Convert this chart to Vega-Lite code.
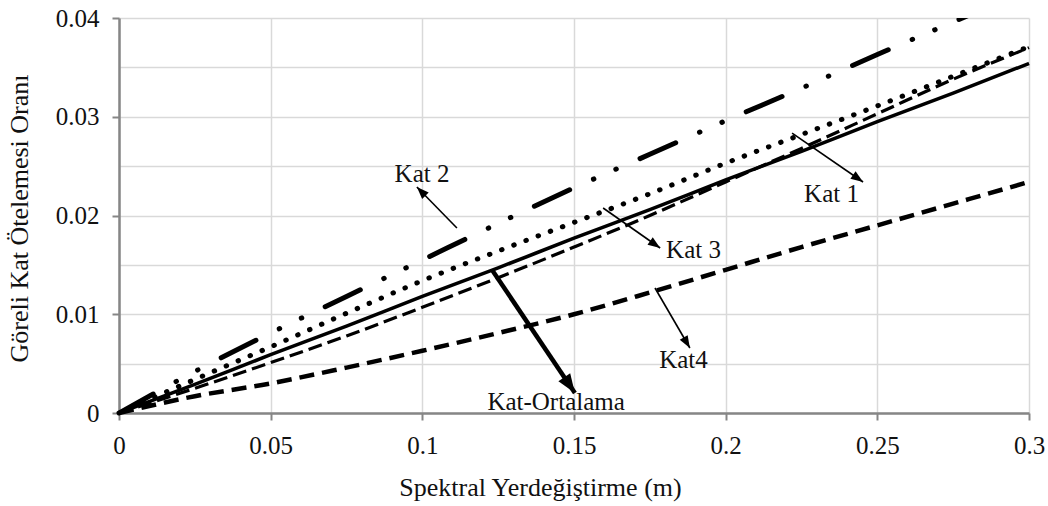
{
  "$schema": "https://vega.github.io/schema/vega-lite/v6.json",
  "width": 910,
  "height": 395,
  "autosize": "none",
  "padding": {"left": 119, "top": 18, "right": 19, "bottom": 93},
  "background": "white",
  "config": {"view": {"stroke": null}, "font": "Liberation Serif"},
  "datasets": {
    "curves": [
      {"series": "Kat 1", "x": 0, "y": 0}, {"series": "Kat 1", "x": 0.025, "y": 0.0029}, {"series": "Kat 1", "x": 0.05, "y": 0.0059}, {"series": "Kat 1", "x": 0.075, "y": 0.0088}, {"series": "Kat 1", "x": 0.1, "y": 0.0118}, {"series": "Kat 1", "x": 0.125, "y": 0.0147}, {"series": "Kat 1", "x": 0.15, "y": 0.0177}, {"series": "Kat 1", "x": 0.175, "y": 0.0206}, {"series": "Kat 1", "x": 0.2, "y": 0.0236}, {"series": "Kat 1", "x": 0.225, "y": 0.0265}, {"series": "Kat 1", "x": 0.25, "y": 0.0295}, {"series": "Kat 1", "x": 0.275, "y": 0.0324}, {"series": "Kat 1", "x": 0.3, "y": 0.0354},
      {"series": "Kat 2", "x": 0, "y": 0}, {"series": "Kat 2", "x": 0.025, "y": 0.0042}, {"series": "Kat 2", "x": 0.05, "y": 0.0081}, {"series": "Kat 2", "x": 0.075, "y": 0.0118}, {"series": "Kat 2", "x": 0.1, "y": 0.0155}, {"series": "Kat 2", "x": 0.125, "y": 0.0192}, {"series": "Kat 2", "x": 0.15, "y": 0.0228}, {"series": "Kat 2", "x": 0.175, "y": 0.0262}, {"series": "Kat 2", "x": 0.2, "y": 0.0296}, {"series": "Kat 2", "x": 0.225, "y": 0.0329}, {"series": "Kat 2", "x": 0.25, "y": 0.0363}, {"series": "Kat 2", "x": 0.275, "y": 0.0396}, {"series": "Kat 2", "x": 0.3, "y": 0.0429},
      {"series": "Kat 3", "x": 0, "y": 0}, {"series": "Kat 3", "x": 0.025, "y": 0.0034}, {"series": "Kat 3", "x": 0.05, "y": 0.0067}, {"series": "Kat 3", "x": 0.075, "y": 0.0101}, {"series": "Kat 3", "x": 0.1, "y": 0.0134}, {"series": "Kat 3", "x": 0.125, "y": 0.0164}, {"series": "Kat 3", "x": 0.15, "y": 0.0193}, {"series": "Kat 3", "x": 0.175, "y": 0.0222}, {"series": "Kat 3", "x": 0.2, "y": 0.0253}, {"series": "Kat 3", "x": 0.225, "y": 0.0282}, {"series": "Kat 3", "x": 0.25, "y": 0.0311}, {"series": "Kat 3", "x": 0.275, "y": 0.0341}, {"series": "Kat 3", "x": 0.3, "y": 0.0371},
      {"series": "Kat4", "x": 0, "y": 0}, {"series": "Kat4", "x": 0.025, "y": 0.0017}, {"series": "Kat4", "x": 0.05, "y": 0.003}, {"series": "Kat4", "x": 0.075, "y": 0.0046}, {"series": "Kat4", "x": 0.1, "y": 0.0063}, {"series": "Kat4", "x": 0.125, "y": 0.0081}, {"series": "Kat4", "x": 0.15, "y": 0.01}, {"series": "Kat4", "x": 0.175, "y": 0.0122}, {"series": "Kat4", "x": 0.2, "y": 0.0145}, {"series": "Kat4", "x": 0.225, "y": 0.0168}, {"series": "Kat4", "x": 0.25, "y": 0.019}, {"series": "Kat4", "x": 0.275, "y": 0.0212}, {"series": "Kat4", "x": 0.3, "y": 0.0234},
      {"series": "Kat-Ortalama", "x": 0, "y": 0}, {"series": "Kat-Ortalama", "x": 0.025, "y": 0.0025}, {"series": "Kat-Ortalama", "x": 0.05, "y": 0.0051}, {"series": "Kat-Ortalama", "x": 0.075, "y": 0.0078}, {"series": "Kat-Ortalama", "x": 0.1, "y": 0.0107}, {"series": "Kat-Ortalama", "x": 0.125, "y": 0.0137}, {"series": "Kat-Ortalama", "x": 0.15, "y": 0.0168}, {"series": "Kat-Ortalama", "x": 0.175, "y": 0.02}, {"series": "Kat-Ortalama", "x": 0.2, "y": 0.0234}, {"series": "Kat-Ortalama", "x": 0.225, "y": 0.0268}, {"series": "Kat-Ortalama", "x": 0.25, "y": 0.0303}, {"series": "Kat-Ortalama", "x": 0.275, "y": 0.0338}, {"series": "Kat-Ortalama", "x": 0.3, "y": 0.037}
    ],
    "labels": [
      {"label": "Kat 2", "x": 0.0999, "y": 0.02339},
      {"label": "Kat 3", "x": 0.1894, "y": 0.0157},
      {"label": "Kat 1", "x": 0.2349, "y": 0.02137},
      {"label": "Kat4", "x": 0.1861, "y": 0.00456},
      {"label": "Kat-Ortalama", "x": 0.1441, "y": 0.0003}
    ],
    "arrows": [
      {"label": "Kat 2", "x": 0.1114, "y": 0.01873, "x2": 0.0982, "y2": 0.02289},
      {"label": "Kat 3", "x": 0.1596, "y": 0.02076, "x2": 0.1784, "y2": 0.01671},
      {"label": "Kat 1", "x": 0.2219, "y": 0.02835, "x2": 0.2453, "y2": 0.02339},
      {"label": "Kat4", "x": 0.1767, "y": 0.01266, "x2": 0.1882, "y2": 0.00658},
      {"label": "Kat-Ortalama", "x": 0.123, "y": 0.01448, "x2": 0.1503, "y2": 0.00203}
    ],
    "heads": [
      {"label": "Kat 2", "x": 0.0982, "y": 0.02289},
      {"label": "Kat 3", "x": 0.1784, "y": 0.01671},
      {"label": "Kat 1", "x": 0.2453, "y": 0.02339},
      {"label": "Kat4", "x": 0.1882, "y": 0.00658},
      {"label": "Kat-Ortalama", "x": 0.1503, "y": 0.00203}
    ]
  },
  "encoding": {
    "x": {
      "field": "x", "type": "quantitative",
      "scale": {"domain": [0, 0.3], "nice": false, "zero": false},
      "axis": {
        "title": "Spektral Yerdeğiştirme (m)",
        "values": [0, 0.05, 0.1, 0.15, 0.2, 0.25, 0.3],
        "format": ".2~f",
        "grid": true, "gridColor": "#d9d9d9", "gridWidth": 1.5,
        "domainColor": "#868686", "domainWidth": 2.5,
        "tickColor": "#868686", "tickWidth": 2, "tickSize": 7,
        "labelFont": "Liberation Serif", "labelFontSize": 25, "labelColor": "#111", "labelPadding": 13,
        "labelFlush": false, "labelOverlap": false,
        "titleFont": "Liberation Serif", "titleFontSize": 26, "titleFontWeight": "normal", "titleColor": "#111",
        "titleX": 421, "titleY": 82, "titleAlign": "center", "titleBaseline": "alphabetic"
      }
    },
    "y": {
      "field": "y", "type": "quantitative",
      "scale": {"domain": [0, 0.04], "nice": false, "zero": false},
      "axis": {
        "title": "Göreli Kat Ötelemesi Oranı",
        "values": [0, 0.005, 0.01, 0.015, 0.02, 0.025, 0.03, 0.035, 0.04],
        "format": ".2~f",
        "labelExpr": "round(datum.value*1000) % 10 == 0 ? datum.label : ''",
        "tickOpacity": {"condition": {"test": "round(datum.value*1000) % 10 != 0", "value": 0}, "value": 1},
        "grid": true, "gridColor": "#d9d9d9", "gridWidth": 1.5,
        "domainColor": "#868686", "domainWidth": 2.5,
        "tickColor": "#868686", "tickWidth": 2, "tickSize": 7,
        "labelFont": "Liberation Serif", "labelFontSize": 25, "labelColor": "#111", "labelPadding": 13,
        "labelFlush": false, "labelOverlap": false,
        "titleFont": "Liberation Serif", "titleFontSize": 26, "titleFontWeight": "normal", "titleColor": "#111",
        "titleX": -92, "titleY": 200, "titleAlign": "center", "titleBaseline": "alphabetic", "titleAngle": 270
      }
    }
  },
  "layer": [
    {"data": {"name": "curves"}, "transform": [{"filter": "datum.series == 'Kat4'"}],
     "mark": {"type": "line", "color": "black", "strokeWidth": 4.5, "strokeDash": [15, 8], "interpolate": "monotone"}},
    {"data": {"name": "curves"}, "transform": [{"filter": "datum.series == 'Kat-Ortalama'"}],
     "mark": {"type": "line", "color": "black", "strokeWidth": 3.2, "strokeDash": [14, 6], "interpolate": "monotone"}},
    {"data": {"name": "curves"}, "transform": [{"filter": "datum.series == 'Kat 1'"}],
     "mark": {"type": "line", "color": "black", "strokeWidth": 3.5, "interpolate": "monotone"}},
    {"data": {"name": "curves"}, "transform": [{"filter": "datum.series == 'Kat 3'"}],
     "mark": {"type": "line", "color": "black", "strokeWidth": 5, "strokeDash": [0.5, 12.5], "strokeCap": "round", "interpolate": "monotone"}},
    {"data": {"name": "curves"}, "transform": [{"filter": "datum.series == 'Kat 2'"}],
     "mark": {"type": "line", "color": "black", "strokeWidth": 5, "strokeDash": [39, 26, 0.5, 24, 0.5, 26], "strokeCap": "round", "interpolate": "monotone", "clip": true}},
    {"data": {"name": "arrows"}, "transform": [{"filter": "datum.label != 'Kat-Ortalama'"}],
     "mark": {"type": "rule", "color": "black", "strokeWidth": 1.6},
     "encoding": {"x2": {"field": "x2"}, "y2": {"field": "y2"}}},
    {"data": {"name": "arrows"}, "transform": [{"filter": "datum.label == 'Kat-Ortalama'"}],
     "mark": {"type": "rule", "color": "black", "strokeWidth": 4.5},
     "encoding": {"x2": {"field": "x2"}, "y2": {"field": "y2"}}},
    {"data": {"name": "heads"}, "transform": [{"filter": "datum.label == 'Kat 2'"}],
     "mark": {"type": "point", "shape": "M0,0L0.75,2L-0.75,2Z", "filled": true, "color": "black", "opacity": 1, "size": 150, "angle": 315.7, "strokeWidth": 0}},
    {"data": {"name": "heads"}, "transform": [{"filter": "datum.label == 'Kat 3'"}],
     "mark": {"type": "point", "shape": "M0,0L0.75,2L-0.75,2Z", "filled": true, "color": "black", "opacity": 1, "size": 150, "angle": 125.1, "strokeWidth": 0}},
    {"data": {"name": "heads"}, "transform": [{"filter": "datum.label == 'Kat 1'"}],
     "mark": {"type": "point", "shape": "M0,0L0.75,2L-0.75,2Z", "filled": true, "color": "black", "opacity": 1, "size": 150, "angle": 124.6, "strokeWidth": 0}},
    {"data": {"name": "heads"}, "transform": [{"filter": "datum.label == 'Kat4'"}],
     "mark": {"type": "point", "shape": "M0,0L0.75,2L-0.75,2Z", "filled": true, "color": "black", "opacity": 1, "size": 150, "angle": 149.7, "strokeWidth": 0}},
    {"data": {"name": "heads"}, "transform": [{"filter": "datum.label == 'Kat-Ortalama'"}],
     "mark": {"type": "point", "shape": "M0,0L0.75,2L-0.75,2Z", "filled": true, "color": "black", "opacity": 1, "size": 360, "angle": 146, "strokeWidth": 0}},
    {"data": {"name": "labels"},
     "mark": {"type": "text", "font": "Liberation Serif", "fontSize": 25, "color": "#111", "align": "center", "baseline": "alphabetic"},
     "encoding": {"text": {"field": "label"}}}
  ]
}
